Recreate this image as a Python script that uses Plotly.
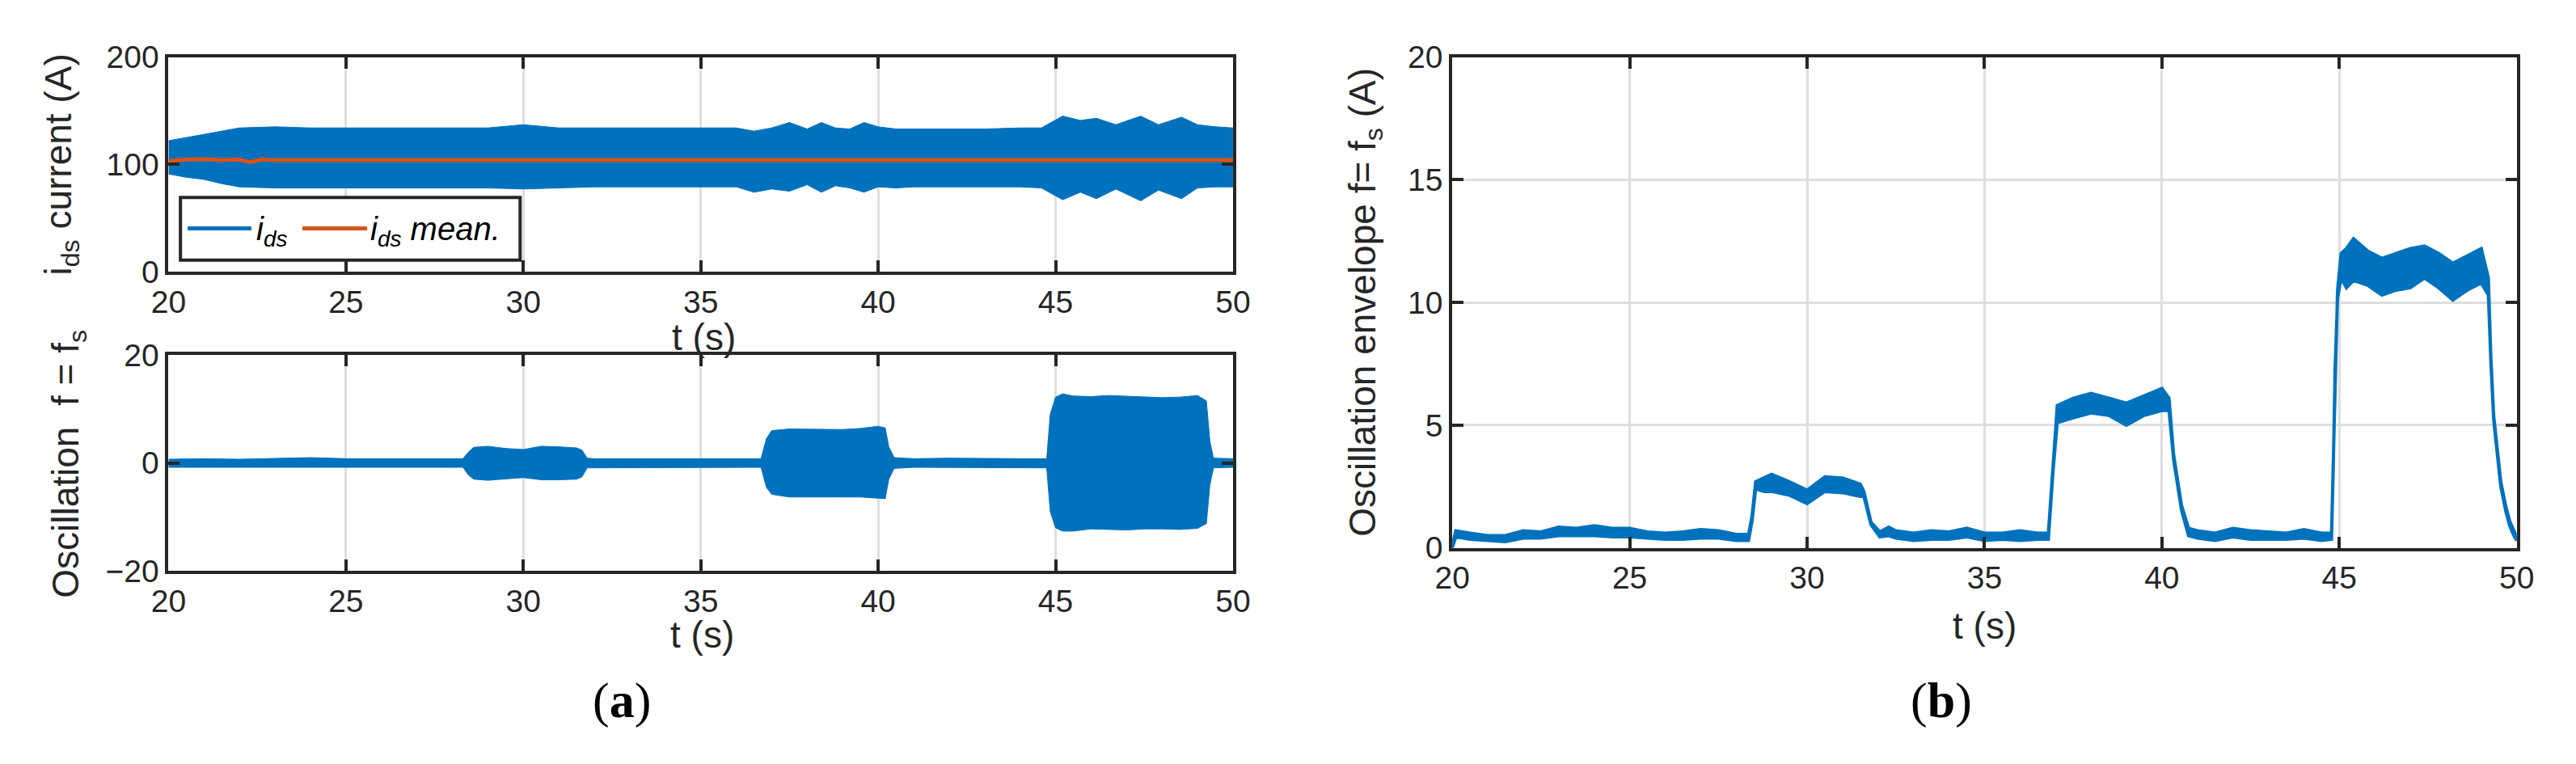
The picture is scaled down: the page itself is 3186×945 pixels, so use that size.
import plotly.graph_objects as go

# ---------------- data ----------------
# (a) top: i_ds current envelope (A)
t_ids = [20, 20.5, 21, 21.5, 22, 23, 24, 25, 26, 27, 28, 29, 30, 31, 32, 33, 34, 35,
         36, 36.5, 37, 37.5, 38, 38.4, 38.8, 39.2, 39.6, 40,
         40.5, 41, 42, 43, 44, 44.6,
         45.2, 45.7, 46.15, 46.7, 47.4, 47.9, 48.55, 49, 49.5, 50]
ids_upper = [122, 125, 128, 131, 134, 135, 134, 134, 134, 134, 134, 134, 137, 134, 134, 134, 134, 134,
             134, 131, 134, 139, 133, 139, 134, 133, 139, 135,
             133, 133, 133, 133, 134, 134,
             145, 141, 143, 137, 145, 137, 144, 137, 135, 134]
ids_lower = [91, 88, 86, 82, 79, 78, 78, 78, 78, 78, 78, 78, 77, 78, 79, 79, 79, 79,
             79, 74, 77, 75, 81, 74, 80, 78, 74, 79,
             78, 79, 79, 79, 79, 78,
             67, 74, 68, 77, 66, 76, 68, 78, 79, 79]
t_mean = [20, 20.5, 21, 21.5, 22, 22.3, 22.6, 23, 24, 50]
ids_mean = [103, 104.5, 105, 104, 104.5, 102, 104.5, 104, 104, 104]

# (a) bottom: oscillation f = fs
t_osc = [20, 21, 22, 23, 24, 25, 26, 27, 28, 28.3, 28.45, 28.6, 29, 29.5, 30, 30.5, 31, 31.5,
         31.65, 31.8, 32, 33, 34, 35, 36, 36.7, 36.85, 37.0, 37.5, 38, 38.5, 39, 39.5, 40,
         40.2, 40.3, 40.45, 41, 42, 43, 44, 44.75, 44.85, 45.0, 45.2, 45.5, 46, 46.5, 47,
         47.5, 48, 48.5, 49, 49.25, 49.35, 49.45, 50]
osc_upper = [0.7, 0.8, 0.7, 0.9, 1.0, 0.8, 0.8, 0.9, 0.8, 0.8, 2.0, 2.9, 3.1, 2.7, 2.5, 3.1, 3.0, 2.8,
             2.4, 0.9, 0.8, 0.8, 0.9, 0.9, 0.8, 0.8, 4.5, 6.0, 6.3, 6.3, 6.2, 6.2, 6.4, 6.8,
             6.5, 3.0, 1.0, 0.8, 0.9, 0.8, 0.8, 0.8, 9.0, 12.2, 12.8, 12.4, 12.3, 12.5, 12.4,
             12.3, 12.1, 12.2, 12.5, 11.5, 4.0, 0.9, 0.8]
osc_lower = [-0.8, -0.8, -0.8, -0.9, -0.9, -0.8, -0.8, -0.8, -0.8, -0.8, -2.2, -3.0, -3.2, -2.9, -2.7, -3.1, -3.1, -3.0,
             -2.6, -0.9, -0.8, -0.8, -0.8, -0.9, -0.8, -0.8, -4.5, -5.8, -6.3, -6.4, -6.3, -6.3, -6.3, -6.5,
             -6.6, -3.0, -1.0, -0.8, -0.9, -0.9, -0.9, -0.9, -9.0, -12.0, -12.6, -12.6, -12.2, -12.3, -12.4,
             -12.2, -12.2, -12.3, -12.1, -11.2, -4.0, -0.9, -0.8]

# (b) oscillation envelope f = fs (A): local max / min of the noisy trace
env_t = [20, 20.1, 20.5, 21, 21.5, 22, 22.5, 23, 23.5, 24, 24.5, 25, 25.5, 26, 26.5, 27, 27.5, 28,
         28.35, 28.45, 28.55, 28.8, 29.0, 29.5, 30.0, 30.5, 31.0, 31.5, 31.6, 31.8, 32.05,
         32.3, 32.5, 33, 33.5, 34, 34.5, 35, 35.5, 36, 36.5, 36.8, 36.93, 37.05, 37.5, 38, 38.5,
         39, 39.5, 40.0, 40.2, 40.33, 40.55, 40.75, 41, 41.5, 42, 42.5, 43, 43.5, 44, 44.5,
         44.78, 44.83, 44.88, 44.95, 45.05, 45.2, 45.4, 45.8, 46.2, 46.6, 47.0, 47.4, 47.8,
         48.2, 48.6, 49.0, 49.2, 49.27, 49.35, 49.46, 49.55, 49.69, 49.8, 49.92, 50]
env_hi = [0.1, 0.7, 0.6, 0.5, 0.5, 0.7, 0.65, 0.85, 0.8, 0.9, 0.8, 0.8, 0.65, 0.6, 0.65, 0.75, 0.7, 0.55,
          0.55, 1.3, 2.7, 2.85, 3.0, 2.7, 2.35, 2.9, 2.85, 2.6, 2.3, 1.05, 0.65,
          0.85, 0.7, 0.6, 0.7, 0.65, 0.8, 0.6, 0.6, 0.7, 0.6, 0.6, 3.3, 5.8, 6.1, 6.3, 6.1,
          5.9, 6.2, 6.5, 6.1, 3.8, 1.75, 0.8, 0.7, 0.6, 0.8, 0.7, 0.65, 0.6, 0.75, 0.6,
          0.6, 3.5, 7.5, 10.5, 12.0, 12.2, 12.6, 12.1, 11.8, 12.0, 12.2, 12.3, 12.0,
          11.6, 11.9, 12.2, 11.0, 7.8, 5.4, 3.8, 2.7, 1.7, 1.1, 0.7, 0.45]
env_lo = [0.0, 0.45, 0.35, 0.3, 0.25, 0.4, 0.4, 0.5, 0.5, 0.5, 0.45, 0.45, 0.4, 0.35, 0.35, 0.4, 0.4, 0.3,
          0.3, 1.1, 2.4, 2.3, 2.3, 2.15, 1.8, 2.3, 2.25, 2.1, 2.1, 0.95, 0.45,
          0.5, 0.4, 0.3, 0.35, 0.35, 0.45, 0.3, 0.35, 0.3, 0.35, 0.35, 3.1, 5.1, 5.3, 5.5, 5.4,
          5.0, 5.4, 5.6, 5.6, 3.6, 1.55, 0.5, 0.4, 0.3, 0.45, 0.35, 0.35, 0.35, 0.4, 0.3,
          0.35, 3.3, 7.3, 10.2, 11.0, 10.6, 10.9, 10.7, 10.3, 10.5, 10.6, 11.0, 10.6,
          10.1, 10.5, 10.8, 10.3, 7.6, 5.2, 3.6, 2.5, 1.5, 0.9, 0.5, 0.3]

x_ticks = [20, 25, 30, 35, 40, 45, 50]
ids_ticks = [0, 100, 200]
osc_ticks = [-20, 0, 20]
env_ticks = [0, 5, 10, 15, 20]
legend_names = ['<i>i<sub>ds</sub></i>', '<i>i<sub>ds</sub> mean.</i>']

# ---------------- styling ----------------
W, H = 3186, 945
BLUE = '#0072BD'
ORANGE = '#D95319'
AX = '#262626'
GRID = '#dedede'
SANS = 'Liberation Sans, Arial, Helvetica, sans-serif'
SERIF = 'Liberation Serif, Times New Roman, serif'
TICK_FS = 39
LAB_FS = 46


def px(x):
    return x / W


def py(y):
    return 1 - y / H


fig = go.Figure()

# (a) top
fig.add_trace(go.Scatter(x=t_ids + t_ids[::-1], y=ids_upper + ids_lower[::-1], fill='toself',
                         fillcolor=BLUE, mode='lines', line=dict(color=BLUE, width=1),
                         name=legend_names[0], showlegend=False, hoverinfo='skip',
                         xaxis='x', yaxis='y'))
fig.add_trace(go.Scatter(x=t_mean, y=ids_mean, mode='lines', line=dict(color=ORANGE, width=5),
                         name=legend_names[1], showlegend=False, xaxis='x', yaxis='y'))

# (a) bottom
fig.add_trace(go.Scatter(x=t_osc + t_osc[::-1], y=osc_upper + osc_lower[::-1], fill='toself',
                         fillcolor=BLUE, mode='lines', line=dict(color=BLUE, width=1),
                         showlegend=False, hoverinfo='skip', xaxis='x2', yaxis='y2'))

# (b)
fig.add_trace(go.Scatter(x=env_t + env_t[::-1], y=env_hi + env_lo[::-1], fill='toself',
                         fillcolor=BLUE, mode='lines', line=dict(color=BLUE, width=4),
                         showlegend=False, hoverinfo='skip', xaxis='x3', yaxis='y3'))

common = dict(showgrid=True, gridcolor=GRID, gridwidth=3, showline=True, linecolor=AX,
              linewidth=4, mirror='ticks', ticks='inside', ticklen=14, tickwidth=4,
              tickcolor=AX, zeroline=False,
              tickfont=dict(family=SANS, size=TICK_FS, color=AX))

xl = [px(189), px(1524)]
xr = [px(1799), px(3134)]
fig.update_layout(
    xaxis=dict(domain=xl, anchor='y', range=[20, 50], tickvals=x_ticks, **common),
    yaxis=dict(domain=[py(330), py(52)], anchor='x', range=[0, 200], tickvals=ids_ticks, **common),
    xaxis2=dict(domain=xl, anchor='y2', range=[20, 50], tickvals=x_ticks, **common),
    yaxis2=dict(domain=[py(718), py(438)], anchor='x2', range=[-20, 20], tickvals=osc_ticks, **common),
    xaxis3=dict(domain=xr, anchor='y3', range=[20, 50], tickvals=x_ticks, **common),
    yaxis3=dict(domain=[py(688), py(52)], anchor='x3', range=[0, 20], tickvals=env_ticks, **common),
)

fig.update_layout(
    width=W, height=H, autosize=False,
    margin=dict(l=0, r=0, t=0, b=0),
    paper_bgcolor='white', plot_bgcolor='white',
    showlegend=False,
)

# legend box (MATLAB style: long line keys inside a framed box)
shapes = [
    dict(type='rect', xref='paper', yref='paper', x0=px(204), x1=px(630), y0=py(315), y1=py(234),
         line=dict(color=AX, width=4), fillcolor='white', layer='above'),
    dict(type='line', xref='paper', yref='paper', x0=px(213), x1=px(293), y0=py(274), y1=py(274),
         line=dict(color=BLUE, width=5), layer='above'),
    dict(type='line', xref='paper', yref='paper', x0=px(357), x1=px(438), y0=py(274), y1=py(274),
         line=dict(color=ORANGE, width=5), layer='above'),
]
fig.update_layout(shapes=shapes)

ann = []


def label(text, x, y, size=LAB_FS, angle=0, family=SANS, color=AX, xanchor='center'):
    ann.append(dict(text=text, x=px(x), y=py(y), xref='paper', yref='paper', showarrow=False,
                    xanchor=xanchor, yanchor='middle', textangle=angle,
                    font=dict(family=family, size=size, color=color)))


label(legend_names[0], 297, 278, size=40, color='black', xanchor='left')
label(legend_names[1], 440, 278, size=40, color='black', xanchor='left')
label('t (s)', 860, 415)
label('t (s)', 858, 800)
label('t (s)', 2467, 789)
label('i<sub>ds</sub> current (A)', 54, 191, angle=-90)
label('Oscillation  f = f<sub>s</sub>', 64, 579, angle=-90)
label('Oscillation envelope f= f<sub>s</sub> (A)', 1689, 370, angle=-90)
label('(<b>a</b>)', 757, 886, size=62, family=SERIF, color='black')
label('(<b>b</b>)', 2412, 886, size=62, family=SERIF, color='black')
fig.update_layout(annotations=ann)

fig.write_html('out.html', config={'displayModeBar': False, 'staticPlot': True},
               post_script="document.body.style.margin='0px';document.body.style.overflow='hidden';")
